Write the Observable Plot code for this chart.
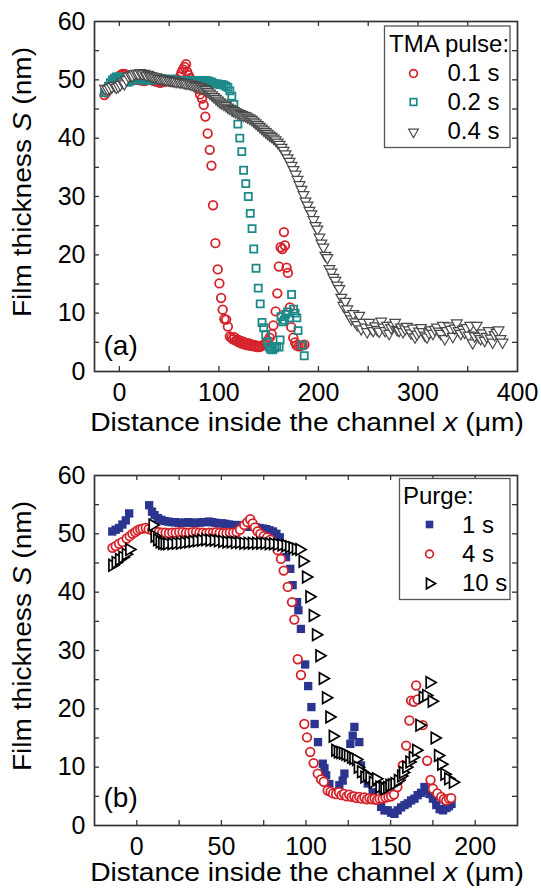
<!DOCTYPE html>
<html><head><meta charset="utf-8">
<script src="https://cdn.jsdelivr.net/npm/d3@7"></script>
<script src="https://cdn.jsdelivr.net/npm/@observablehq/plot@0.6"></script>
<style>
body{margin:0;background:#fff}
#wrap{position:relative;width:541px;height:891px;overflow:hidden;background:#fff}
#pa,#pb{position:absolute;left:0}
#pa{top:0}#pb{top:445px}
</style></head><body>
<div id="wrap"><div id="pa"></div><div id="pb"></div></div>
<script>
// ---------- data: panel (a), TMA pulse ----------
const pulse01 = [[-15,47.4],[-13,47.8],[-11,48.3],[-9,48.8],[-7,49.3],[-5,49.8],[-3,50.2],[-1,50.5],[1,50.8],[3,51.0],[5,51.0],[7,50.9],[9,50.6],[11,50.4],[13,50.2],[15,50.1],[17,50.0],[19,50.0],[21,49.9],[23,49.9],[25,49.8],[27,49.9],[29,50.0],[31,50.0],[33,49.9],[35,49.8],[37,49.7],[39,49.6],[41,49.5],[43,49.6],[45,49.7],[47,49.8],[49,49.8],[51,49.7],[53,49.6],[55,49.6],[57,49.7],[59,50.0],[61,50.6],[62.5,51.3],[64,51.8],[65.5,52.2],[67,52.7],[68,51.4],[69.5,50.8],[71,50.3],[73,49.9],[75,49.6],[77,49.2],[79,48.4],[81,47.5],[83,46.8],[84.7,45.7],[86.4,43.7],[88.7,40.8],[90.8,38.0],[92.5,35.3],[94.1,28.5],[96.5,22.0],[98.8,17.5],[100.5,15.1],[102.2,12.6],[103.8,10.6],[105.5,9.0],[107.3,8.9],[109,7.7],[111,6.0],[112.5,5.8],[114,5.5],[115.5,5.9],[117,5.3],[118.5,5.5],[120,5.0],[121.5,5.3],[123,4.8],[124.5,5.1],[126,4.6],[127.5,4.9],[129,4.5],[130.5,4.8],[132,4.4],[133.5,4.6],[135,4.3],[136.5,4.5],[138,4.2],[139.5,4.4],[141,4.2],[143,4.4],[145,4.6],[147,4.9],[149,5.3],[151,5.8],[153,6.4],[154.7,7.9],[157,10.3],[158.7,13.4],[160.3,18.0],[162,21.3],[163.7,21.0],[165.3,23.9],[166.3,21.6],[168,17.8],[169.3,16.9],[171.3,11.0],[172.7,7.6],[174.7,5.8],[176.5,5.0],[178,4.5],[180,4.3],[182,4.4],[184,4.5],[186,4.6]];
const pulse02 = [[-15,47.8],[-13,48.3],[-11,48.9],[-9,49.5],[-7,50.0],[-5,50.3],[-3,50.5],[-1,50.5],[1,50.3],[3,50.0],[5,49.7],[7,49.6],[9,49.6],[11,49.8],[13,50.0],[15,50.1],[17,50.2],[19,50.2],[21,50.1],[23,50.0],[25,49.9],[27,49.9],[29,50.0],[31,50.1],[33,50.1],[35,50.0],[37,50.0],[39,50.1],[41,50.2],[43,50.2],[45,50.1],[47,50.0],[49,50.0],[51,50.1],[53,50.1],[55,50.0],[57,49.9],[59,49.9],[61,49.9],[63,49.8],[65,49.8],[67,49.9],[69,49.9],[71,49.8],[73,49.8],[75,49.9],[77,49.9],[79,49.9],[81,49.8],[83,49.8],[85,49.9],[87,49.9],[89,49.8],[91,49.7],[93,49.6],[95,49.4],[97,49.3],[99,49.3],[101,49.2],[103,49.2],[105,49.1],[107,48.9],[109,48.7],[111,48.1],[113,47.2],[115,45.8],[117,44.4],[119,42.4],[121,40.0],[123,37.7],[124.8,34.5],[127,32.2],[129.5,30.0],[131.5,27.1],[133.3,24.5],[135,21.0],[137.3,17.7],[139.5,14.3],[141.5,11.6],[143.3,8.4],[145,7.5],[147,6.3],[149,5.0],[150.5,4.2],[152,3.8],[154,3.7],[156,4.0],[158,4.3],[160.5,4.2],[161.5,5.4],[162.3,9.4],[164,8.5],[165.8,8.8],[167,9.8],[169,10.2],[171,9.2],[173,13.2],[175,10.7],[176.5,10.0],[178.3,9.2],[179.5,7.0],[183.5,4.5],[185.7,2.7]];
const pulse04 = [[-14.5,48.5],[-12,48.4],[-10,48.6],[-7.5,48.8],[-5,49.0],[-3,48.7],[-1,48.9],[1,49.2],[3,49.6],[5,49.3],[7,50.0],[9,50.6],[11,50.8],[13,50.7],[15,51.0],[17,51.1],[19,51.0],[21,51.2],[23,51.0],[25,51.1],[27,50.8],[29,50.9],[31,50.7],[33,50.6],[35,50.5],[37,50.5],[39,50.3],[41,50.2],[43,50.2],[45,50.1],[47,50.0],[49,50.0],[51,49.9],[53,49.9],[55,49.8],[57,49.7],[59,49.7],[61,49.6],[63,49.6],[65,49.5],[67,49.4],[69,49.4],[71,49.3],[73,49.2],[75,49.1],[77,49.0],[79,48.9],[81,48.8],[83,48.6],[85,48.5],[87,48.3],[89,48.0],[91,47.7],[93,47.4],[95,47.1],[97,46.8],[99,46.5],[101,46.2],[103,46.0],[105,45.8],[107,45.6],[109,45.3],[111,45.1],[113,44.9],[115,44.7],[117,44.5],[119,44.3],[121,44.2],[123,44.0],[125,43.9],[127,43.8],[129,43.6],[131,43.4],[133,43.2],[135,42.9],[137,42.6],[139,42.3],[141,42.0],[143,41.7],[145,41.4],[147,41.1],[149,40.8],[151,40.5],[153,40.3],[155,40.0],[157,39.7],[159,39.3],[161,38.9],[163,38.4],[165,37.9],[167,37.3],[169,36.6],[171,36.0],[173,35.3],[175,34.6],[177,33.8],[179,32.9],[181,32.0],[183,31.2],[185,30.3],[187,29.2],[189,28.5],[191,27.6],[193,27.0],[195,26.0],[197,25.0],[199,24.4],[201,23.0],[203,22.0],[205,21.3],[207,19.9],[209,19.5],[211,17.6],[213,17.0],[215,16.1],[217,15.6],[219,14.8],[221,14.2],[223,12.7],[225,11.3],[227,12.0],[229,10.7],[231,9.6],[233,9.0],[235,9.9],[237,8.5],[239,8.0],[241,9.6],[243,7.3],[245,8.4],[247,7.6],[249,6.8],[251,8.4],[253,7.4],[255,7.0],[257,7.8],[259,7.2],[261,6.9],[263,8.6],[265,7.6],[267,7.0],[269,7.9],[271,6.5],[273,7.5],[275,7.9],[277,8.4],[279,7.2],[281,7.0],[283,7.6],[285,6.8],[287,7.3],[289,7.7],[291,7.1],[293,6.6],[295,7.4],[297,5.9],[299,6.4],[301,6.9],[303,7.5],[305,6.8],[307,6.2],[309,5.9],[311,6.6],[313,7.1],[315,6.5],[317,7.2],[319,7.6],[321,6.9],[323,6.5],[325,7.9],[327,5.6],[329,7.0],[331,7.8],[333,7.2],[335,6.0],[337,7.4],[339,8.3],[341,7.0],[343,6.5],[345,7.2],[347,6.7],[349,7.5],[351,6.2],[352.5,7.9],[355,4.9],[357,6.1],[359,7.9],[361,6.0],[363,5.6],[365,6.6],[367,5.3],[369,6.0],[371,7.0],[373,5.7],[375,5.0],[377,6.3],[379,6.7],[381,7.1],[383,5.6],[385,5.0]];

// ---------- data: panel (b), purge ----------
const purge1 = [[-14.5,50.4],[-12.5,50.7],[-10.5,51.0],[-8.5,51.6],[-6.5,52.3],[-4.5,53.5],[7.3,54.9],[9,53.8],[10.5,53.2],[12.5,52.7],[14.5,52.4],[16.5,52.2],[18.5,52.1],[20.5,52.0],[22.5,52.0],[24.5,51.9],[26.5,51.9],[28.5,51.9],[30.5,52.0],[32.5,51.9],[34.5,51.9],[36.5,51.9],[38.5,52.0],[40.5,52.0],[42.5,52.1],[44.5,52.0],[46.5,51.9],[48.5,51.8],[50.5,51.8],[52.5,51.7],[54.5,51.6],[56.5,51.5],[58.5,51.5],[60.5,51.5],[62.5,51.4],[64.5,51.3],[66.5,51.2],[68.5,51.2],[70.5,51.1],[72.5,51.0],[74.5,50.9],[76.5,50.8],[78.5,50.6],[80.5,50.4],[82.5,50.0],[84.5,49.4],[86.3,48.0],[88.2,46.0],[90.7,44.0],[92.1,41.2],[94.7,38.3],[95.5,36.9],[97,33.7],[99.5,27.6],[101.3,23.9],[103.2,20.3],[105.1,17.4],[107.1,14.3],[109.9,10.6],[110.9,9.8],[111.9,8.6],[113.8,7.1],[115.8,5.7],[117.5,5.5],[119.7,6.9],[121.7,7.7],[122.7,8.9],[126.2,14.0],[127.6,15.4],[128.6,16.9],[131.5,14.3],[132.5,10.3],[133.5,8.9],[136.5,7.2],[139.4,5.7],[142.4,4.3],[144.4,3.2],[146.4,2.6],[148.3,2.6],[150.3,2.2],[152.3,2.0],[154.2,2.6],[156.2,3.1],[158.2,3.5],[160.1,3.8],[162.1,4.3],[164.1,4.6],[166,5.2],[168,5.6],[170,6.6],[171.5,6.0],[173,5.4],[175,4.6],[177,3.5],[179,2.8],[181,2.6],[183,3.0],[184.5,3.3],[186,3.7]];
const purge4 = [[-14.4,47.6],[-12.5,47.9],[-10.5,48.3],[-8.5,48.6],[-6,49.2],[-4.2,49.6],[-2.6,50.0],[-1,50.3],[0.4,50.6],[2,50.8],[3.4,50.9],[5.3,51.0],[7,50.8],[9,50.6],[11,50.4],[13,50.3],[15,50.2],[17,50.2],[19,50.1],[21,50.2],[23,50.2],[25,50.3],[27,50.3],[29,50.2],[31,50.2],[33,50.3],[35,50.3],[37,50.2],[39,50.2],[41,50.1],[43,50.2],[45,50.2],[47,50.3],[49,50.2],[51,50.1],[53,50.1],[55,50.2],[57,50.2],[59,50.3],[61,50.7],[63.5,51.5],[65.3,52.0],[67,52.5],[68.5,51.8],[69.8,51.1],[71.4,50.4],[73,50.0],[75,49.6],[77,49.4],[79,49.0],[81,48.3],[83.2,47.2],[85.2,45.7],[86.8,43.7],[89.2,40.9],[91.7,38.3],[93.1,35.3],[95.1,28.5],[97,25.8],[99,17.4],[100.6,15.1],[102.5,12.6],[104.5,10.7],[106.9,8.9],[108.9,7.9],[110.5,7.5],[112.8,6.0],[114.5,5.8],[116,5.5],[117.8,5.4],[119.5,5.7],[121,5.2],[122.5,5.4],[124,5.0],[125.5,5.3],[127,4.9],[128.5,5.0],[130,4.7],[131.5,4.9],[133,4.6],[134.5,4.8],[136,4.5],[137.5,4.7],[139,4.5],[140.5,4.6],[142,4.4],[143.5,4.6],[145.3,4.6],[147,4.8],[148.7,4.9],[150.3,5.0],[152,5.3],[154,6.6],[156.2,8.2],[157.2,10.3],[159.2,13.7],[161.1,18.0],[162.1,21.4],[163.7,21.2],[165.1,24.0],[166,21.6],[169,17.2],[171.6,11.1],[173.6,7.8],[175,6.3],[177.6,5.5],[179.9,4.9],[181.5,4.5],[182.9,4.3],[184.5,4.6],[185.8,4.7]];
const purge10 = [[-14.5,44.6],[-12.5,45.1],[-10.5,45.6],[-8.5,46.0],[-6.5,46.5],[-4.5,47.3],[9.3,51.5],[10.5,49.6],[12,49.0],[13.5,48.6],[15,48.4],[16.5,48.3],[18,48.3],[20.5,48.3],[23,48.4],[25.5,48.4],[28,48.5],[30.5,48.6],[33,48.7],[35.5,48.8],[38,48.9],[40.5,49.0],[43,48.9],[45.5,48.9],[48,48.8],[50.5,48.7],[53,48.6],[55.5,48.6],[58,48.5],[60.5,48.5],[63,48.4],[65.5,48.4],[68,48.4],[70.5,48.4],[73,48.4],[75.5,48.4],[78,48.3],[80.5,48.3],[83,48.2],[85.5,48.1],[88,48.0],[90,47.8],[92,47.6],[94,47.4],[96.1,47.3],[98,45.3],[100,42.6],[102,39.2],[104,36.0],[105.9,32.7],[107.9,29.1],[109.9,25.2],[111.8,21.9],[113.8,18.6],[115.8,15.3],[117.3,12.9],[118.8,12.6],[120.3,12.5],[121.8,12.4],[123.3,12.2],[124.8,12.0],[126.6,11.7],[128,11.5],[129.6,11.3],[130.6,10.0],[132.5,9.2],[134.5,8.3],[136,8.6],[137.5,8.2],[139.5,7.4],[141.4,8.0],[143.4,6.6],[145.4,6.6],[146.4,6.3],[148,6.5],[149.3,6.9],[150.8,7.0],[152.3,7.2],[154.3,7.7],[156.2,8.5],[157.3,9.1],[159.2,10.0],[161.1,10.9],[163.1,11.7],[165.1,12.9],[167,17.2],[169,22.0],[171,22.3],[173,24.5],[174.3,21.3],[176,15.0],[178,12.0],[179.9,10.5],[181.8,8.8],[184,8.0],[186.8,7.4]];

// ---------- ticks & labels ----------
const xLabelTicksA = [0, 100, 200, 300, 400];
const xMarkTicksA = [0, 50, 100, 150, 200, 250, 300, 350];
const xLabelTicksB = [0, 50, 100, 150, 200];
const xMarkTicksB = [0, 25, 50, 75, 100, 125, 150, 175, 200];
const yLabelTicks = [0, 10, 20, 30, 40, 50, 60];
const yMarkTicks = [5, 10, 15, 20, 25, 30, 35, 40, 45, 50, 55];
const legendA = {title: "TMA pulse:", labels: ["0.1 s", "0.2 s", "0.4 s"]};
const legendB = {title: "Purge:", labels: ["1 s", "4 s", "10 s"]};

const FONT = "'Liberation Sans', Arial, Helvetica, sans-serif";
const C = {red: "#d5232b", teal: "#1d8a8a", gray: "#4a4a4a", navy: "#2b3590", black: "#000"};

// custom symbols
const triDown = {draw(ctx, size) { const y = Math.sqrt(size / (3 * Math.sqrt(3))), s = Math.sqrt(3) * y;
  ctx.moveTo(0, 2 * y); ctx.lineTo(-s, -y); ctx.lineTo(s, -y); ctx.closePath(); }};
const triRight = {draw(ctx, size) { const y = Math.sqrt(size / (3 * Math.sqrt(3))), s = Math.sqrt(3) * y;
  ctx.moveTo(2 * y, 0); ctx.lineTo(-y, -s); ctx.lineTo(-y, s); ctx.closePath(); }};

const W = 541, ML = 94, MR = 24, PH = 350;
const PW = W - ML - MR;
const TICKFS = 25;

function frameMarks(xMarkTicks, xLabelTicks) {
  const tk = {stroke: "#333", strokeWidth: 1.3};
  return [
    Plot.tickX(xMarkTicks, {x: d => d, insetTop: PH - 5, ...tk}),
    Plot.tickX(xMarkTicks, {x: d => d, insetBottom: PH - 5, ...tk}),
    Plot.tickY(yMarkTicks, {y: d => d, insetRight: PW - 5, ...tk}),
    Plot.tickY(yMarkTicks, {y: d => d, insetLeft: PW - 5, ...tk}),
    Plot.axisX({ticks: xLabelTicks, tickSize: 0, tickPadding: 12, label: null, fontSize: TICKFS}),
    Plot.axisY({ticks: yLabelTicks, tickSize: 0, tickPadding: 9, label: null, fontSize: TICKFS})
  ];
}

function addLabels(svg, xBase, yCenter) {
  const tx = svg.append("text").attr("text-anchor", "middle").attr("font-size", 25).attr("fill", "#000")
    .attr("transform", `translate(307,${xBase}) scale(1.13,1)`);
  tx.append("tspan").text("Distance inside the channel ");
  tx.append("tspan").attr("font-style", "italic").text("x");
  tx.append("tspan").text(" (μm)");
  const ty = svg.append("text").attr("text-anchor", "middle").attr("font-size", 25).attr("fill", "#000")
    .attr("transform", `translate(31,${yCenter}) rotate(-90) scale(1.125,1)`);
  ty.append("tspan").text("Film thickness ");
  ty.append("tspan").attr("font-style", "italic").text("S");
  ty.append("tspan").text(" (nm)");
}

function addLegend(svg, box, spec, items) {
  const g = svg.append("g").attr("font-size", 24).attr("fill", "#000").attr("text-anchor", "start");
  g.append("rect").attr("x", box.x).attr("y", box.y).attr("width", box.w).attr("height", box.h)
    .attr("fill", "white").attr("stroke", "#555").attr("stroke-width", 1.3);
  g.append("text").attr("x", box.tx).attr("y", box.ty).text(spec.title);
  items.forEach((it, i) => {
    g.append("path").attr("transform", `translate(${box.sx},${box.sy[i]})`)
      .attr("d", d3.symbol(it.symbol, Math.PI * it.r * it.r)())
      .attr("fill", it.fill).attr("stroke", it.stroke).attr("stroke-width", it.sw);
    g.append("text").attr("x", box.lx).attr("y", box.ly[i]).text(spec.labels[i]);
  });
}

// ---------- panel (a) ----------
const plotA = Plot.plot({
  width: W, height: 445, marginTop: 21, marginBottom: 74, marginLeft: ML, marginRight: MR,
  x: {domain: [-25, 400]}, y: {domain: [0, 60]},
  style: {fontFamily: FONT, fontSize: "23px", color: "#000", background: "white", overflow: "visible"},
  marks: [
    Plot.dot(pulse01, {x: d => d[0], y: d => d[1], r: 4.3, symbol: "circle", stroke: C.red, fill: "none", strokeWidth: 1.8}),
    Plot.dot(pulse02, {x: d => d[0], y: d => d[1], r: 4.0, symbol: "square", stroke: C.teal, fill: "none", strokeWidth: 1.8}),
    Plot.dot(pulse04, {x: d => d[0], y: d => d[1], r: 4.0, symbol: triDown, stroke: C.gray, fill: "white", strokeWidth: 1.2}),
    ...frameMarks(xMarkTicksA, xLabelTicksA),
    Plot.frame({stroke: "#333", strokeWidth: 1.7}),
    Plot.text(["(a)"], {frameAnchor: "bottom-left", dx: 9, dy: -25, lineAnchor: "middle", textAnchor: "start", fontSize: 28})
  ]
});
document.getElementById("pa").appendChild(plotA);
const svgA = d3.select(plotA);
addLabels(svgA, 431, 182);
addLegend(svgA, {x: 384.5, y: 26, w: 125.5, h: 121.5, tx: 389, ty: 52, sx: 413.5, sy: [73.5, 102, 132], lx: 447.5, ly: [81, 110, 138.5]},
  legendA, [
    {symbol: d3.symbolCircle, r: 3.9, fill: "none", stroke: C.red, sw: 1.7},
    {symbol: d3.symbolSquare, r: 3.7, fill: "none", stroke: C.teal, sw: 1.7},
    {symbol: triDown, r: 3.6, fill: "white", stroke: C.gray, sw: 1.2}
  ]);

// ---------- panel (b) ----------
const plotB = Plot.plot({
  width: W, height: 446, marginTop: 30, marginBottom: 66, marginLeft: ML, marginRight: MR,
  x: {domain: [-25, 225]}, y: {domain: [0, 60]},
  style: {fontFamily: FONT, fontSize: "23px", color: "#000", background: "white", overflow: "visible"},
  marks: [
    Plot.dot(purge1, {x: d => d[0], y: d => d[1], r: 4.7, symbol: "square", fill: C.navy, stroke: "none"}),
    Plot.dot(purge4, {x: d => d[0], y: d => d[1], r: 4.3, symbol: "circle", stroke: C.red, fill: "white", strokeWidth: 1.8}),
    Plot.dot(purge10, {x: d => d[0], y: d => d[1], r: 4.3, symbol: triRight, stroke: C.black, fill: "white", strokeWidth: 1.7}),
    ...frameMarks(xMarkTicksB, xLabelTicksB),
    Plot.frame({stroke: "#333", strokeWidth: 1.7}),
    Plot.text(["(b)"], {frameAnchor: "bottom-left", dx: 9, dy: -27, lineAnchor: "middle", textAnchor: "start", fontSize: 28})
  ]
});
document.getElementById("pb").appendChild(plotB);
const svgB = d3.select(plotB);
addLabels(svgB, 436, 191);
addLegend(svgB, {x: 399.5, y: 33.5, w: 110.5, h: 121, tx: 403, ty: 58.5, sx: 429.5, sy: [79.5, 109, 138.5], lx: 462, ly: [88, 117, 145.5]},
  legendB, [
    {symbol: d3.symbolSquare, r: 4.3, fill: C.navy, stroke: "none", sw: 0},
    {symbol: d3.symbolCircle, r: 3.9, fill: "white", stroke: C.red, sw: 1.7},
    {symbol: triRight, r: 3.9, fill: "white", stroke: C.black, sw: 1.7}
  ]);
</script></body></html>
